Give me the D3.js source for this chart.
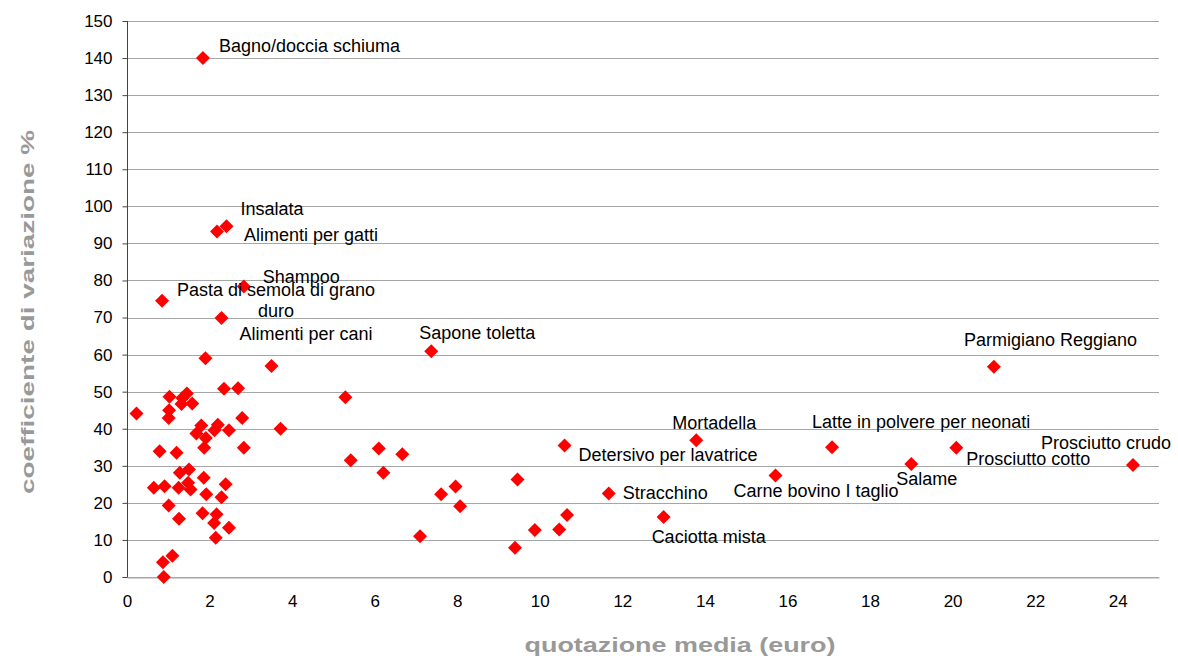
<!DOCTYPE html>
<html>
<head>
<meta charset="utf-8">
<script src="https://cdn.jsdelivr.net/npm/d3@7"></script>
<style>
  body { margin: 0; background: #fff; }
  text { font-family: "Liberation Sans", Arial, sans-serif; }
</style>
</head>
<body>
<div class="chart"></div>
<script>
// prezzo medio (euro) e coefficiente di variazione (%) per prodotto
const quotazione = [
  1.84, 2.41, 2.18, 2.83, 0.85, 2.29, 7.37, 1.90, 3.50, 21.0,
  2.35, 2.69, 5.29, 1.03, 1.34, 1.45, 1.32, 1.58, 1.02, 0.23,
  1.01, 2.79, 3.72, 1.80, 1.68, 1.91, 1.87, 2.20, 2.12, 2.47,
  2.83, 0.79, 1.20, 1.28, 1.50, 0.65, 0.91, 1.25, 1.48, 1.54,
  1.86, 2.39, 1.92, 2.29, 1.01, 1.26, 1.83, 2.17, 2.11, 2.47,
  2.15, 1.10, 0.87, 0.89, 5.42, 6.10, 6.67, 6.21, 10.60, 9.46,
  7.61, 7.96, 8.07, 7.10, 9.40, 9.88, 10.47, 10.66, 13.79, 17.08,
  15.71, 11.67, 13.00, 20.09, 19.00, 24.37
];
const variazione = [
  140.0, 94.6, 93.2, 78.4, 74.5, 69.9, 60.9, 59.0, 56.9, 56.7,
  50.8, 50.9, 48.5, 48.6, 48.3, 49.5, 46.7, 46.8, 45.0, 44.1,
  42.9, 42.9, 40.0, 40.9, 38.7, 37.5, 34.9, 41.1, 39.6, 39.6,
  34.9, 33.9, 33.5, 28.1, 29.0, 24.1, 24.5, 24.1, 25.4, 23.6,
  26.8, 25.0, 22.3, 21.5, 19.3, 15.7, 17.2, 16.9, 14.6, 13.3,
  10.6, 5.7, 4.0, 0.0, 31.5, 34.7, 33.1, 28.1, 35.5, 26.3,
  22.3, 24.4, 19.1, 11.0, 7.9, 12.7, 12.8, 16.7, 36.9, 35.0,
  27.4, 22.5, 16.2, 34.9, 30.5, 30.2
];
// etichette: indice del punto -> nome
const etichette = [
  [0, "Bagno/doccia schiuma"],
  [1, "Insalata"],
  [2, "Alimenti per gatti"],
  [3, "Shampoo"],
  [4, "Pasta di semola di grano\nduro"],
  [5, "Alimenti per cani"],
  [6, "Sapone toletta"],
  [9, "Parmigiano Reggiano"],
  [58, "Detersivo per lavatrice"],
  [68, "Mortadella"],
  [69, "Latte in polvere per neonati"],
  [70, "Carne bovino I taglio"],
  [71, "Stracchino"],
  [72, "Caciotta mista"],
  [73, "Prosciutto cotto"],
  [74, "Salame"],
  [75, "Prosciutto crudo"]
];
const xTicks = [0, 2, 4, 6, 8, 10, 12, 14, 16, 18, 20, 22, 24];
const yTicks = d3.range(0, 151, 10);

// spostamento delle etichette rispetto al punto (px), come trascinate a mano
const labelShift = {
  0: [16, -6], 1: [14, -11], 2: [27, 9], 3: [19, -3], 4: [114, -5],
  5: [18, 22], 6: [-12, -12], 9: [-30, -21], 58: [14, 16], 68: [-24, -11],
  69: [-20, -19], 70: [-42, 22], 71: [14, 5], 72: [-12, 26], 73: [10, 17],
  74: [-15, 21], 75: [-92, -16]
};

const width = 1178, height = 656;
const margin = {left: 127, right: 19, top: 21, bottom: 79};

const svg = d3.select(".chart").append("svg")
  .attr("width", width)
  .attr("height", height);

const xScale = d3.scaleLinear()
  .domain([0, 25])
  .range([margin.left, width - margin.right]);
const yScale = d3.scaleLinear()
  .domain([0, 150])
  .range([height - margin.bottom, margin.top]);

// gridlines
svg.append("g")
  .selectAll("line")
  .data(yTicks)
  .enter()
  .append("line")
  .attr("x1", margin.left)
  .attr("x2", width - margin.right)
  .attr("y1", d => Math.round(yScale(d)) + 0.5)
  .attr("y2", d => Math.round(yScale(d)) + 0.5)
  .attr("stroke", "#a6a6a6")
  .attr("stroke-width", 1.2);

// y axis
let yAxis = d3.axisLeft(yScale)
  .tickValues(yTicks)
  .tickSize(5)
  .tickPadding(10);
let gy = svg.append("g")
  .attr("transform", "translate(" + (margin.left + 0.5) + ",0)")
  .call(yAxis);
gy.select(".domain").attr("stroke", "#444").attr("d", "M0," + yScale(150) + "V" + yScale(0));
gy.selectAll(".tick line").attr("stroke", "#444");
gy.selectAll("text").attr("font-size", 17).attr("fill", "#000")
  .style("font-family", "'Liberation Sans', Arial, sans-serif");

// x axis (labels only, no ticks)
let xAxis = d3.axisBottom(xScale)
  .tickValues(xTicks)
  .tickSize(0)
  .tickPadding(17);
let gx = svg.append("g")
  .attr("transform", "translate(0," + (Math.round(yScale(0)) + 0.5) + ")")
  .call(xAxis);
gx.select(".domain").attr("stroke", "#a6a6a6").attr("stroke-width", 1.2);
gx.selectAll("text").attr("font-size", 17).attr("fill", "#000")
  .style("font-family", "'Liberation Sans', Arial, sans-serif");

// punti
const diamond = d3.symbol(d3.symbolSquare, 98);
svg.append("g")
  .selectAll("path")
  .data(quotazione.map((q, i) => [q, variazione[i]]))
  .enter()
  .append("path")
  .attr("d", diamond)
  .attr("transform", d => "translate(" + xScale(d[0]) + "," + yScale(d[1]) + ") rotate(45)")
  .attr("fill", "#ff0000");

// etichette dei dati
const lbl = svg.append("g").attr("font-size", 18).attr("fill", "#000");
etichette.forEach(([i, name]) => {
  const [dx, dy] = labelShift[i];
  const lines = name.split("\n");
  const t = lbl.append("text")
    .attr("x", xScale(quotazione[i]) + dx)
    .attr("y", yScale(variazione[i]) + dy)
    .attr("text-anchor", lines.length > 1 ? "middle" : "start");
  lines.forEach((ln, k) => {
    t.append("tspan")
      .attr("x", xScale(quotazione[i]) + dx)
      .attr("dy", k === 0 ? 0 : 21.5)
      .text(ln);
  });
});

// titoli degli assi
svg.append("text")
  .attr("transform", "translate(34," + 312 + ") rotate(-90)")
  .attr("text-anchor", "middle")
  .attr("font-size", 19)
  .attr("font-weight", "bold")
  .attr("fill", "#999")
  .attr("textLength", 364)
  .attr("lengthAdjust", "spacingAndGlyphs")
  .text("coefficiente di variazione %");

svg.append("text")
  .attr("x", 680)
  .attr("y", 652)
  .attr("text-anchor", "middle")
  .attr("font-size", 20)
  .attr("font-weight", "bold")
  .attr("fill", "#999")
  .attr("textLength", 311)
  .attr("lengthAdjust", "spacingAndGlyphs")
  .text("quotazione media (euro)");
</script>
</body>
</html>
